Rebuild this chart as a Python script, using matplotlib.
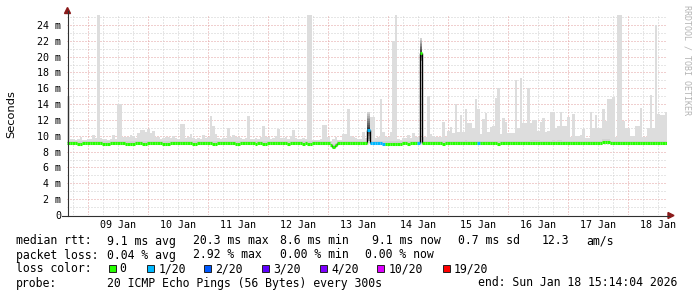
import numpy as np
import matplotlib.pyplot as plt
from matplotlib.lines import Line2D
from matplotlib.patches import Rectangle, Polygon

# ── data (ms), one value per hour, 240 hours ending Sun Jan 18 15:14 ──────────
smoke_hi = [
    15.0, 9.6, 9.6, 9.5, 9.6, 9.8, 9.5, 9.5, 9.6, 9.6, 10.1, 9.7, 25.3, 9.7, 9.6, 9.6, 9.5, 9.6, 10.1, 9.6,
    14.0, 14.0, 9.8, 9.8, 9.9, 10.1, 10.0, 9.7, 10.3, 10.7, 10.7, 10.5, 10.9, 10.3, 10.6, 9.9, 9.9, 9.6, 9.7, 9.8,
    9.9, 9.7, 10.0, 9.7, 9.6, 11.5, 11.5, 9.7, 9.8, 10.2, 9.7, 9.6, 9.7, 9.6, 10.1, 9.7, 9.8, 12.5, 11.2, 10.2,
    9.7, 9.6, 9.7, 9.7, 11.0, 9.8, 10.1, 9.9, 9.9, 9.7, 9.6, 9.7, 12.5, 9.6, 9.6, 9.7, 9.6, 9.8, 11.2, 9.9,
    9.8, 9.6, 9.7, 10.0, 10.8, 9.7, 9.7, 9.9, 9.6, 10.0, 10.7, 9.7, 9.6, 9.6, 9.7, 9.6, 25.3, 25.3, 9.5, 9.5,
    9.5, 9.6, 11.4, 11.4, 9.8, 9.4, 9.6, 9.9, 9.5, 9.5, 10.2, 10.2, 13.4, 10.0, 9.8, 9.7, 9.6, 9.6, 10.5, 9.7,
    13.0, 12.4, 12.4, 9.7, 9.8, 14.6, 10.5, 9.9, 9.9, 10.5, 22.0, 25.3, 9.6, 9.5, 9.7, 9.7, 10.1, 9.7, 10.3, 9.8,
    9.8, 22.3, 9.8, 9.8, 15.0, 10.2, 10.0, 9.8, 9.8, 9.9, 11.8, 9.8, 10.6, 11.1, 10.3, 14.0, 10.5, 12.6, 10.5, 13.4,
    11.6, 11.6, 11.0, 14.6, 13.4, 10.2, 12.1, 12.9, 10.5, 11.1, 11.3, 14.8, 16.0, 10.2, 12.2, 11.8, 10.3, 10.3, 10.4, 17.0,
    11.0, 17.3, 11.6, 11.6, 16.0, 11.6, 12.0, 12.0, 10.6, 11.7, 12.2, 10.5, 10.6, 13.0, 13.0, 11.0, 11.2, 13.0, 11.2, 11.2,
    12.4, 9.8, 12.8, 10.0, 10.0, 10.1, 10.9, 9.7, 9.7, 13.0, 11.0, 12.6, 11.0, 11.0, 13.4, 11.9, 14.6, 14.6, 14.9, 9.8,
    25.3, 25.3, 11.9, 11.0, 11.0, 10.0, 10.0, 11.2, 11.2, 13.5, 9.8, 9.8, 11.0, 15.2, 11.0, 24.0, 12.8, 12.6, 12.6, 13.0,
]

median_rtt = [
    9.05, 9.05, 9.05, 9.05, 8.95, 8.95, 9.05, 9.05, 9.05, 9.05, 9.05, 9.05, 9.05, 9.05, 8.95, 8.95, 8.95, 9.05, 9.05, 9.05,
    9.05, 9.05, 9.05, 8.95, 8.95, 8.95, 8.95, 9.05, 9.05, 9.05, 8.95, 8.95, 9.05, 9.05, 9.05, 9.05, 9.05, 9.05, 8.95, 8.95,
    8.95, 9.05, 9.05, 9.05, 9.05, 9.05, 9.05, 9.05, 9.05, 9.05, 8.95, 8.95, 9.05, 9.05, 9.05, 9.05, 9.05, 9.05, 8.95, 8.95,
    9.05, 9.05, 9.05, 9.05, 9.05, 9.05, 9.05, 8.95, 8.95, 9.05, 9.05, 9.05, 9.05, 9.05, 9.05, 8.95, 9.05, 9.05, 8.95, 8.95,
    9.05, 9.05, 9.05, 9.05, 9.05, 9.05, 9.05, 9.05, 8.95, 9.05, 9.05, 9.05, 9.05, 9.05, 8.95, 9.05, 8.95, 8.95, 9.05, 9.05,
    9.05, 9.05, 9.05, 9.05, 9.05, 8.9, 8.6, 8.8, 9.05, 9.05, 9.05, 9.05, 9.05, 9.05, 9.05, 9.05, 9.05, 9.05, 9.05, 9.05,
    10.7, 9.05, 9.05, 9.05, 9.05, 9.05, 8.95, 8.95, 8.95, 8.95, 8.95, 8.95, 8.95, 8.95, 9.05, 9.05, 8.95, 9.05, 9.05, 9.05,
    9.05, 20.4, 9.05, 9.05, 9.05, 9.05, 9.05, 9.05, 9.05, 9.05, 8.95, 9.05, 9.05, 9.05, 9.05, 9.05, 9.05, 9.05, 9.05, 9.15,
    9.05, 9.05, 9.05, 9.05, 9.05, 9.05, 9.05, 9.05, 9.05, 9.05, 9.05, 9.05, 8.95, 9.05, 9.05, 9.05, 9.05, 9.05, 9.05, 9.05,
    9.05, 9.05, 9.05, 9.05, 9.05, 9.15, 9.15, 9.15, 9.15, 9.05, 9.05, 9.05, 9.05, 9.05, 9.15, 9.05, 9.15, 9.15, 9.05, 9.05,
    9.05, 9.05, 9.05, 9.05, 9.05, 9.05, 9.05, 9.05, 9.05, 9.05, 9.05, 9.05, 9.05, 9.05, 9.2, 9.2, 9.2, 9.05, 9.05, 9.05,
    9.05, 9.05, 9.05, 9.05, 9.05, 9.05, 9.05, 9.05, 9.05, 9.05, 9.05, 9.05, 9.05, 9.05, 9.05, 9.05, 9.05, 9.05, 9.05, 9.05,
]

# hours where 1/20 pings were lost
loss_1_bins = [120, 121, 122, 123, 124, 125, 126, 140, 164]
# hours with a high median: darker smoke band, lower edge
dark_bins = [120, 141]
dark_lo = [9.4, 19.4]

loss_labels = ['0', '1/20', '2/20', '3/20', '4/20', '10/20', '19/20']
loss_colors = ['#26ff00', '#00b8ff', '#0059ff', '#5e00ff', '#7e00ff', '#dd00ff', '#ff0000']

day_labels = ['09 Jan', '10 Jan', '11 Jan', '12 Jan', '13 Jan',
              '14 Jan', '15 Jan', '16 Jan', '17 Jan', '18 Jan']
first_midnight = 8.4  # hours after start

# ── figure ────────────────────────────────────────────────────────────────────
W, H = 697, 297
fig = plt.figure(figsize=(W / 100, H / 100), dpi=100)
ax = fig.add_axes([67 / W, 82 / H, 600 / W, 200 / H])

def fx(px):
    return px / W

def fy(py):
    return 1 - py / H

med = np.array(median_rtt)
hi = np.array(smoke_hi)
n = len(med)
t = np.arange(n)
edges = np.arange(n + 1)

# grid
grid_ls = (0, (1, 2))
for v in range(1, 26):
    c = '#e2a0a0' if v % 2 == 0 else '#cfcfcf'
    ax.axhline(v, color=c, lw=0.72, ls=grid_ls, zorder=1)
for k in range(-1, 41):
    x = first_midnight + 6 * k
    if 0 < x < n:
        c = '#e2a0a0' if k % 4 == 0 else '#cfcfcf'
        ax.axvline(x, color=c, lw=0.72, ls=grid_ls, zorder=1)

# smoke
ax.fill_between(edges, np.append(med, med[-1]), np.append(hi, hi[-1]),
                step='post', color='#dddddd', lw=0, zorder=2)
inner = np.minimum(hi, med + 0.35)
ax.fill_between(edges, np.append(med, med[-1]), np.append(inner, inner[-1]),
                step='post', color='#d2d2d2', lw=0, zorder=2)

for b, lo in zip(dark_bins, dark_lo):
    m, top = med[b], hi[b]
    up = np.linspace(m, top, 11)
    for k in range(10):
        g = 0.22 + 0.6 * k / 9
        ax.fill_between([b, b + 1], up[k], up[k + 1], color=(g, g, g), lw=0, zorder=2.5)
    dn = np.linspace(lo, m, 6)
    for k in range(5):
        g = 0.7 - 0.4 * k / 4
        ax.fill_between([b, b + 1], dn[k], dn[k + 1], color=(g, g, g), lw=0, zorder=2.5)

# median line, coloured by loss
d = np.diff(med)
jumps = np.nonzero(np.abs(d) >= 0.2)[0]
ax.vlines(jumps + 1, np.minimum(med[jumps], med[jumps + 1]),
          np.maximum(med[jumps], med[jumps + 1]), color='black', lw=1.0, zorder=3)
seg_colors = [loss_colors[1] if i in loss_1_bins else loss_colors[0] for i in range(n)]
ax.hlines(med, t, t + 1, colors=seg_colors, lw=2.2, zorder=4, capstyle='butt')

ax.set_xlim(0, n)
ax.set_ylim(0, 25.26)
for s in ax.spines.values():
    s.set_visible(False)

mono = 'DejaVu Sans Mono'
ax.set_yticks(range(0, 25, 2))
ax.set_yticklabels(['0'] + [f'{v} m' for v in range(2, 25, 2)], family=mono, fontsize=7.2)
ax.set_xticks([first_midnight + 12 + 24 * k for k in range(len(day_labels))])
ax.set_xticklabels(day_labels, family=mono, fontsize=7.2)
ax.tick_params(axis='y', length=0, pad=4.3)
ax.tick_params(axis='x', length=0, pad=3.5)

# axes lines with arrows
axis_c = '#303030'
arrow_c = '#8b1a1a'
fig.add_artist(Line2D([fx(67.5), fx(67.5)], [fy(215.5), fy(11)], color=axis_c, lw=0.8))
fig.add_artist(Line2D([fx(62), fx(669)], [fy(215.5), fy(215.5)], color=axis_c, lw=0.8))
fig.add_artist(Polygon([[fx(64.5), fy(13.5)], [fx(70.5), fy(13.5)], [fx(67.5), fy(7.5)]],
                       closed=True, color=arrow_c, transform=fig.transFigure))
fig.add_artist(Polygon([[fx(668), fy(212.5)], [fx(668), fy(218.5)], [fx(674), fy(215.5)]],
                       closed=True, color=arrow_c, transform=fig.transFigure))

# labels
fig.text(fx(11), fy(114), 'Seconds', rotation=90, ha='center', va='center',
         fontsize=8.2, family='DejaVu Sans')
fig.text(fx(686.5), fy(60), 'RRDTOOL / TOBI OETIKER', rotation=270, ha='center', va='center',
         fontsize=6.0, family=mono, color='#b4b4b4')

# legend block
fs = 8.3
def line(px, base, s, **kw):
    fig.text(fx(px), fy(base), s, va='baseline', ha=kw.pop('ha', 'left'),
             family=mono, fontsize=fs, **kw)

line(16, 244.5, 'median rtt:')
for px, s in [(107, '9.1 ms avg'), (193, '20.3 ms max'), (280, '8.6 ms min'),
              (372.5, '9.1 ms now'), (458, '0.7 ms sd'), (541.5, '12.3'), (586.5, 'am/s')]:
    line(px, 244.5, s)

line(16, 258.5, 'packet loss:')
for px, s in [(107, '0.04 % avg'), (193, '2.92 % max'), (280, '0.00 % min'), (365, '0.00 % now')]:
    line(px, 258.5, s)

line(16, 272.5, 'loss color:')
box_x = [108.5, 147, 203.5, 262, 320, 377, 442.5]
text_x = [119.5, 158.5, 215, 273.5, 331.5, 388.5, 453.5]
for bx, tx, lab, col in zip(box_x, text_x, loss_labels, loss_colors):
    fig.add_artist(Rectangle((fx(bx), fy(271.5)), 7 / W, 7 / H, facecolor=col,
                             edgecolor='#202020', lw=0.7, transform=fig.transFigure))
    line(tx, 272.5, lab)

line(16, 286.5, 'probe:')
line(107, 286.5, '20 ICMP Echo Pings (56 Bytes) every 300s')
line(478, 286.5, 'end: Sun Jan 18 15:14:04 2026')

fig.savefig('out.png', dpi=100)
